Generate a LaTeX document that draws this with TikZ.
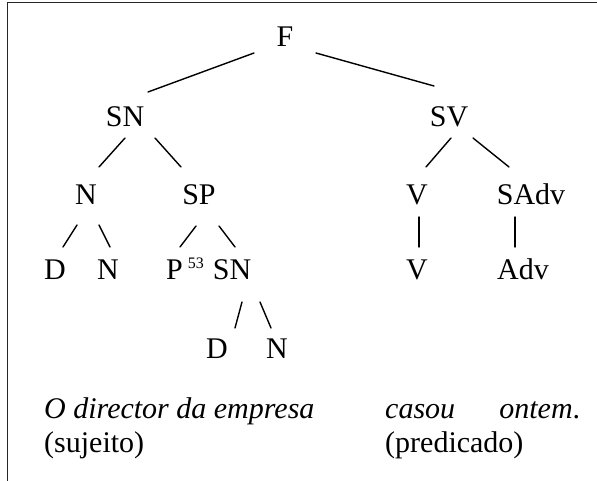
\documentclass[tikz,border=0pt]{standalone}
\usepackage{fontspec}
\setmainfont{Liberation Serif}
\begin{document}
\begin{tikzpicture}[x=1pt,y=-1pt,cat/.style={anchor=base,inner sep=0pt,font=\fontsize{30}{36}\selectfont},catL/.style={cat,anchor=base west},branch/.style={line width=1.4pt,line cap=round},frame/.style={line width=1.6pt,black!85}]
\useasboundingbox (0,0) rectangle (597,481);
\draw[frame] (597,2.5) -- (7.5,2.5) -- (7.5,481);

\node[cat] (F) at (285,47) {F};

\node[cat] (SN) at (125,127) {SN};
\draw[branch] ([shift={(-31,6)}]F.base) -- ([shift={(23,-35)}]SN.base);
\node[cat] (SV) at (449,127) {SV};
\draw[branch] ([shift={(31,6)}]F.base) -- ([shift={(-15,-41)}]SV.base);

\node[cat] (N) at (86,205) {N};
\draw[branch] ([shift={(0,11)}]SN.base) -- ([shift={(13,-38)}]N.base);
\node[cat] (SP) at (199,205) {SP};
\draw[branch] ([shift={(30,11)}]SN.base) -- ([shift={(-18,-38)}]SP.base);
\node[cat] (V) at (417,205) {V};
\draw[branch] ([shift={(2,11)}]SV.base) -- ([shift={(9,-38)}]V.base);
\node[cat] (SAdv) at (531,205) {SAdv};
\draw[branch] ([shift={(24,11)}]SV.base) -- ([shift={(-22,-38)}]SAdv.base);

\node[cat] (D) at (55,279) {D};
\draw[branch] ([shift={(-9,20)}]N.base) -- ([shift={(8,-32)}]D.base);
\node[cat] (N2) at (108,279) {N};
\draw[branch] ([shift={(13,20)}]N.base) -- ([shift={(2,-32)}]N2.base);
\node[catL] (P) at (166,279) {P\,\raisebox{10.5pt}{\fontsize{16}{16}\selectfont 53}};
\draw[branch] ([shift={(-3,21)}]SP.base) -- ([shift={(14,-32)}]P.base west);
\node[cat] (SN2) at (232,279) {SN};
\draw[branch] ([shift={(20,21)}]SP.base) -- ([shift={(3,-32)}]SN2.base);
\node[cat] (V2) at (417,279) {V};
\draw[branch] ([shift={(2,12)}]V.base) -- ([shift={(2,-32)}]V2.base);
\node[cat] (Adv) at (523,279) {Adv};
\draw[branch] ([shift={(-16,12)}]SAdv.base) -- ([shift={(-8,-32)}]Adv.base);

\node[cat] (D2) at (217,358) {D};
\draw[branch] ([shift={(10,23)}]SN2.base) -- ([shift={(18,-30)}]D2.base);
\node[cat] (N3) at (277,358) {N};
\draw[branch] ([shift={(28,23)}]SN2.base) -- ([shift={(-6,-30)}]N3.base);

\node[catL] (subj) at (44,418) {\itshape O director da empresa};
\node[catL,text width=195pt] (pred) at (385,418) {\itshape casou\hfill ontem\upshape.};
\node[catL] (subjL) at (44,452) {(sujeito)};
\node[catL] (predL) at (385,452) {(predicado)};
\end{tikzpicture}
\end{document}
